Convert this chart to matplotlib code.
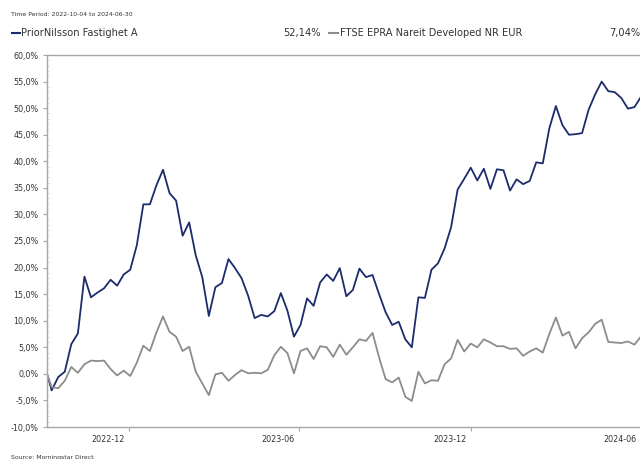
import numpy as np
import pandas as pd
import matplotlib
matplotlib.use('Agg')
import matplotlib.pyplot as plt
import matplotlib.dates as mdates
import matplotlib.transforms as mtransforms
from matplotlib.ticker import FuncFormatter, MultipleLocator

# weekly points: start date, then Sundays up to 2024-06-30
dates = [pd.Timestamp('2022-10-04')] + list(pd.date_range('2022-10-09', '2024-06-30', freq='7D'))

fund_name = 'PriorNilsson Fastighet A'
fund = [0.0, -3.1, -0.6, 0.4, 5.6, 7.6, 18.3, 14.4, 15.3, 16.1, 17.7, 16.6, 18.7, 19.6, 24.2,
        31.9, 31.9, 35.5, 38.4, 34.0, 32.6, 26.0, 28.5, 22.3, 18.2,
        10.9, 16.3, 17.1, 21.6, 19.9, 18.0, 14.7, 10.5, 11.1, 10.8, 11.8, 15.2, 11.9, 7.0,
        9.2, 14.2, 12.8, 17.2, 18.7, 17.5, 19.9, 14.6, 15.8,
        19.8, 18.2, 18.6, 15.0, 11.6, 9.2, 9.8, 6.5, 5.0, 14.4, 14.3, 19.6, 20.8, 23.6,
        27.6, 34.7, 36.7, 38.8, 36.4, 38.6, 34.8,
        38.5, 38.3, 34.5, 36.6, 35.7, 36.3, 39.8, 39.6, 46.2, 50.4, 46.8, 45.0, 45.1, 45.3,
        49.7, 52.6, 55.0, 53.2, 53.0, 51.9, 49.9, 50.2, 52.14]

index_name = 'FTSE EPRA Nareit Developed NR EUR'
index = [0.0, -2.5, -2.7, -1.3, 1.3, 0.2, 1.8, 2.5, 2.4, 2.5, 0.9, -0.3, 0.6, -0.4, 2.1,
         5.3, 4.3, 7.8, 10.8, 7.9, 7.0, 4.3, 5.1, 0.4, -1.8,
         -4.0, -0.1, 0.2, -1.3, -0.2, 0.7, 0.1, 0.2, 0.1, 0.75, 3.5, 5.1, 3.9, 0.1,
         4.3, 4.8, 2.8, 5.2, 5.0, 3.2, 5.5, 3.6, 5.0,
         6.5, 6.2, 7.7, 3.1, -1.0, -1.6, -0.7, -4.3, -5.1, 0.4, -1.8, -1.2, -1.3, 1.8,
         2.9, 6.4, 4.2, 5.7, 5.0, 6.5, 5.9,
         5.2, 5.2, 4.7, 4.8, 3.4, 4.2, 4.8, 4.0, 7.5, 10.6, 7.2, 7.9, 4.8, 6.7,
         7.8, 9.4, 10.2, 6.0, 5.9, 5.8, 6.1, 5.5, 7.04]

tick_dates = pd.to_datetime(['2022-12-31', '2023-06-30', '2023-12-31', '2024-06-30'])
tick_labels = ['2022-12', '2023-06', '2023-12', '2024-06']

navy = '#1c2b6b'
grey = '#8c8c8c'
axcol = '#a6a6a6'
txt = '#333333'

plt.rcParams['font.family'] = 'DejaVu Sans'

fig = plt.figure(figsize=(6.4, 4.59), dpi=100)
W, H = 640, 459
ax = fig.add_axes([47 / W, 1 - 427 / H, 594 / W, 372 / H])

ax.plot(dates, fund, color=navy, lw=1.3)
ax.plot(dates, index, color=grey, lw=1.3)

ax.set_xlim(pd.Timestamp('2022-10-04'), pd.Timestamp('2024-06-30'))
ax.set_ylim(-10, 60)

ax.yaxis.set_major_locator(MultipleLocator(5))
ax.yaxis.set_minor_locator(MultipleLocator(1))
ax.yaxis.set_major_formatter(FuncFormatter(lambda v, p: ('%.1f%%' % v).replace('.', ',')))
ax.tick_params(axis='y', which='major', length=3, width=0.8, color=axcol,
               labelsize=5.8, labelcolor=txt, pad=3)
ax.tick_params(axis='y', which='minor', direction='in', length=2, width=0.5, color='#dddddd')

ax.set_xticks(tick_dates)
ax.set_xticklabels(tick_labels)
ax.tick_params(axis='x', length=3, width=0.8, color=axcol, labelsize=5.8, labelcolor=txt, pad=3)
shift = mtransforms.ScaledTranslation(-3 / 72, 0, fig.dpi_scale_trans)
for lab in ax.get_xticklabels():
    lab.set_horizontalalignment('right')
    lab.set_transform(lab.get_transform() + shift)

for s in ['left', 'bottom', 'top']:
    ax.spines[s].set_color(axcol)
    ax.spines[s].set_linewidth(1.0)
ax.spines['right'].set_visible(False)

# header texts
fig.text(11 / W, 1 - 15 / H, 'Time Period: 2022-10-04 to 2024-06-30', fontsize=4.4,
         color=txt, va='center', ha='left')
y_leg = 1 - 33 / H
fig.add_artist(plt.Line2D([11.5 / W, 20 / W], [y_leg, y_leg], color=navy, lw=1.5))
fig.text(21 / W, y_leg, fund_name, fontsize=7.1, color=txt, va='center', ha='left')
fig.text(321 / W, y_leg, '52,14%', fontsize=7.1, color=txt, va='center', ha='right')
fig.add_artist(plt.Line2D([329 / W, 338 / W], [y_leg, y_leg], color=grey, lw=1.5))
fig.text(339.5 / W, y_leg, index_name, fontsize=7.1, color=txt, va='center', ha='left')
fig.text(640 / W, y_leg, '7,04%', fontsize=7.1, color=txt, va='center', ha='right')

fig.text(11 / W, 1 - 457 / H, 'Source: Morningstar Direct', fontsize=4.4, color=txt,
         va='center', ha='left')

fig.savefig('out.png', dpi=100)
